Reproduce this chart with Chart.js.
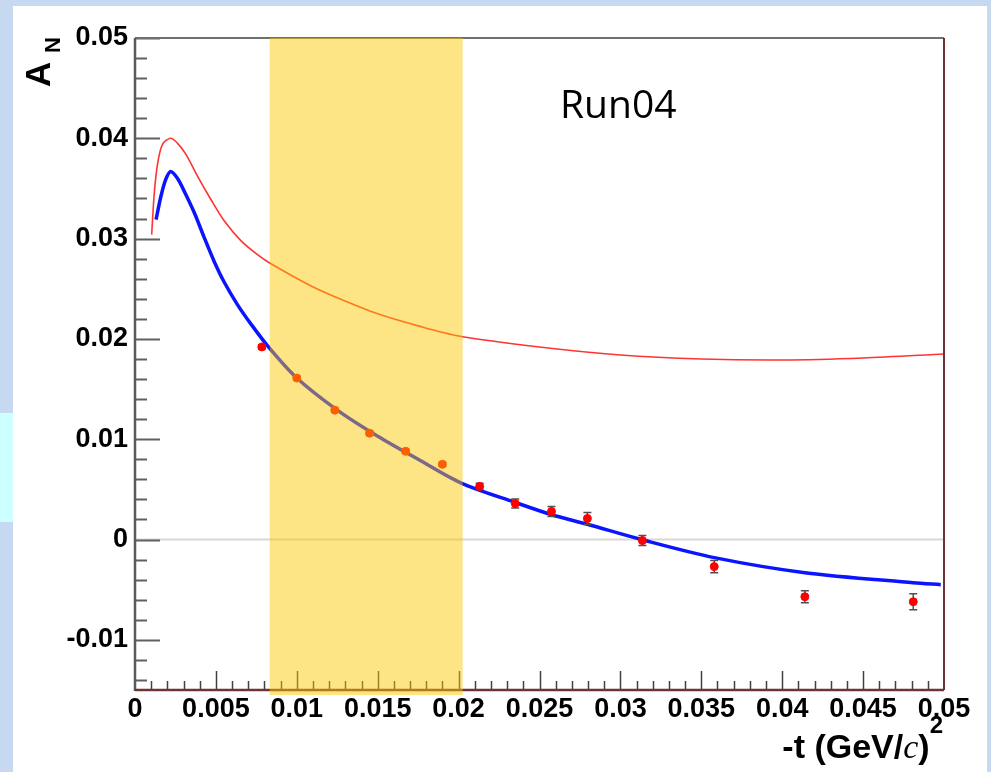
<!DOCTYPE html>
<html>
<head>
<meta charset="utf-8">
<script src="https://cdn.jsdelivr.net/npm/chart.js@4/dist/chart.umd.min.js"></script>
<style>
  body { margin: 0; background: #c6d9f1; }
  #wrap { position: relative; width: 991px; height: 772px; overflow: hidden; }
  #panel { position: absolute; left: 13px; top: 6px; width: 974px; height: 766px; background: #fff; }
  #side { position: absolute; left: 0; top: 413px; width: 13px; height: 109px; background: #ccffff; }
  #c { position: absolute; left: 0; top: 0; }
</style>
</head>
<body>
<div id="wrap">
  <div id="panel"></div>
  <div id="side"></div>
  <canvas id="c" width="991" height="772"></canvas>
</div>
<script>
// theory curve (red)
const redT = [0.00103, 0.00119, 0.0014, 0.0017, 0.0022, 0.00263, 0.00315, 0.00387, 0.00469, 0.0055, 0.00654, 0.00757, 0.0083, 0.01086, 0.0125, 0.015, 0.0175, 0.02, 0.025, 0.03, 0.035, 0.04, 0.045, 0.05];
const redA = [0.0304, 0.0345, 0.0375, 0.0394, 0.0400, 0.0395, 0.0384, 0.0362, 0.0339, 0.0318, 0.0298, 0.0284, 0.0276, 0.0253, 0.0241, 0.0225, 0.0213, 0.0203, 0.0192, 0.0184, 0.0180, 0.0179, 0.0181, 0.0185];

// fit curve (blue)
const blueT = [0.0013, 0.0016, 0.0019, 0.0022, 0.00263, 0.00305, 0.00366, 0.00428, 0.0049, 0.0055, 0.00634, 0.00716, 0.0083, 0.01, 0.0125, 0.015, 0.0175, 0.0202, 0.0235, 0.0257, 0.028, 0.0313, 0.0358, 0.0414, 0.0481, 0.0498];
const blueA = [0.0319, 0.0342, 0.0359, 0.0367, 0.0360, 0.0347, 0.0326, 0.0301, 0.0277, 0.0257, 0.0234, 0.0215, 0.0191, 0.0161, 0.0129, 0.0103, 0.0080, 0.0056, 0.0037, 0.0025, 0.0015, 0.0, -0.0018, -0.0033, -0.0043, -0.0045];

// measured points
const ptT = [0.00784, 0.0100, 0.01235, 0.0145, 0.01673, 0.0190, 0.0213, 0.0235, 0.02574, 0.02796, 0.03136, 0.0358, 0.0414, 0.0481];
const ptA = [0.0192, 0.0161, 0.0129, 0.0106, 0.0088, 0.0075, 0.0053, 0.0036, 0.0028, 0.0021, -0.0001, -0.0027, -0.0057, -0.0062];
const ptErr = [0.0002, 0.0002, 0.0002, 0.0002, 0.0002, 0.0002, 0.0003, 0.00045, 0.0005, 0.0006, 0.0005, 0.0006, 0.0006, 0.0008];

// shaded t range
const band = [0.00833, 0.02025];

const xTickValues = [0, 0.005, 0.01, 0.015, 0.02, 0.025, 0.03, 0.035, 0.04, 0.045, 0.05];
const xTickLabels = ["0", "0.005", "0.01", "0.015", "0.02", "0.025", "0.03", "0.035", "0.04", "0.045", "0.05"];
const yTickValues = [-0.01, 0, 0.01, 0.02, 0.03, 0.04, 0.05];
const yTickLabels = ["-0.01", "0", "0.01", "0.02", "0.03", "0.04", "0.05"];

const toXY = (xs, ys) => xs.map((x, i) => ({ x: x, y: ys[i] }));

const labelFont = { family: '"Liberation Sans", Arial, sans-serif', size: 27, weight: 'bold' };

const decor = {
  id: 'decor',
  beforeDatasetsDraw(chart) {
    const { ctx, chartArea: a, scales: { y } } = chart;
    const y0 = y.getPixelForValue(0);
    ctx.save();
    ctx.strokeStyle = '#dcd8d0';
    ctx.lineWidth = 2;
    ctx.beginPath();
    ctx.moveTo(a.left, y0);
    ctx.lineTo(a.right, y0);
    ctx.stroke();
    ctx.restore();
  },
  beforeDatasetDraw(chart, args) {
    if (args.index !== 0) return;
    const { ctx, scales: { x, y } } = chart;
    ctx.save();
    ctx.strokeStyle = '#505050';
    ctx.lineWidth = 1.5;
    ptT.forEach((t, i) => {
      const px = x.getPixelForValue(t);
      const lo = y.getPixelForValue(ptA[i] - ptErr[i]);
      const hi = y.getPixelForValue(ptA[i] + ptErr[i]);
      ctx.beginPath();
      ctx.moveTo(px, lo); ctx.lineTo(px, hi);
      ctx.moveTo(px - 4, lo); ctx.lineTo(px + 4, lo);
      ctx.moveTo(px - 4, hi); ctx.lineTo(px + 4, hi);
      ctx.stroke();
    });
    ctx.restore();
  },
  afterDraw(chart) {
    const { ctx, chartArea: a, scales: { x, y } } = chart;
    ctx.save();

    // inward ticks
    ctx.strokeStyle = '#606060';
    ctx.lineWidth = 2;
    for (let k = -7; k <= 25; k++) {
      const v = k * 0.002;
      const py = Math.round(y.getPixelForValue(v)) + 0.5;
      const major = yTickValues.some(t => Math.abs(t - v) < 1e-9);
      ctx.beginPath();
      ctx.moveTo(a.left, py);
      ctx.lineTo(a.left + (major ? 25 : 12), py);
      ctx.stroke();
    }
    ctx.strokeStyle = '#404040';
    ctx.lineWidth = 1.5;
    for (let k = 1; k < 50; k++) {
      const v = k * 0.001;
      const px = Math.round(x.getPixelForValue(v)) + 0.5;
      const major = k % 5 === 0;
      ctx.beginPath();
      ctx.moveTo(px, a.bottom);
      ctx.lineTo(px, a.bottom - (major ? 19 : 9));
      ctx.stroke();
    }

    // frame
    ctx.lineWidth = 2;
    ctx.strokeStyle = '#707070';
    ctx.beginPath(); ctx.moveTo(a.left, a.top); ctx.lineTo(a.right, a.top); ctx.stroke();
    ctx.strokeStyle = '#5a5a5a';
    ctx.lineWidth = 2.5;
    ctx.beginPath(); ctx.moveTo(a.left, a.top); ctx.lineTo(a.left, a.bottom + 1); ctx.stroke();
    ctx.strokeStyle = '#6e3434';
    ctx.lineWidth = 2;
    ctx.beginPath(); ctx.moveTo(a.right, a.top); ctx.lineTo(a.right, a.bottom); ctx.stroke();
    ctx.lineWidth = 2.5;
    ctx.beginPath(); ctx.moveTo(a.left, a.bottom); ctx.lineTo(a.right, a.bottom); ctx.stroke();

    // shaded band (semi-transparent, on top)
    const bx0 = x.getPixelForValue(band[0]);
    const bx1 = x.getPixelForValue(band[1]);
    ctx.fillStyle = 'rgba(250, 198, 0, 0.48)';
    ctx.fillRect(bx0, a.top, bx1 - bx0, a.bottom - a.top + 5);

    // y title A_N
    ctx.fillStyle = '#000';
    ctx.save();
    ctx.translate(50, 87);
    ctx.rotate(-Math.PI / 2);
    ctx.textBaseline = 'alphabetic';
    ctx.textAlign = 'left';
    ctx.font = 'bold 35px "Liberation Sans", Arial, sans-serif';
    ctx.fillText('A', 0, 0);
    ctx.font = 'bold 22px "Liberation Sans", Arial, sans-serif';
    ctx.fillText('N', 34, 10);
    ctx.restore();

    // x title -t (GeV/c)^2
    const parts = [
      { t: '-t (GeV/', f: 'bold 34px "Liberation Sans", Arial, sans-serif', dy: 0 },
      { t: 'c', f: 'italic 34px "Liberation Serif", "Times New Roman", serif', dy: 0 },
      { t: ')', f: 'bold 34px "Liberation Sans", Arial, sans-serif', dy: 0 },
      { t: '2', f: 'bold 24px "Liberation Sans", Arial, sans-serif', dy: -25 }
    ];
    let total = 0;
    parts.forEach(p => { ctx.font = p.f; p.w = ctx.measureText(p.t).width; total += p.w; });
    let cx = 943 - total;
    ctx.textAlign = 'left';
    ctx.textBaseline = 'alphabetic';
    parts.forEach(p => { ctx.font = p.f; ctx.fillText(p.t, cx, 758 + p.dy); cx += p.w; });

    // run label
    ctx.font = '39px "Open Sans", sans-serif';
    ctx.fillText('Run04', 560, 118);

    ctx.restore();
  }
};

new Chart(document.getElementById('c'), {
  type: 'scatter',
  data: {
    datasets: [
      {
        label: 'data',
        data: toXY(ptT, ptA),
        backgroundColor: '#ff0000',
        borderColor: '#ff0000',
        pointRadius: 4,
        order: 0
      },
      {
        label: 'fit',
        data: toXY(blueT, blueA),
        showLine: true,
        borderColor: '#0a14ff',
        borderWidth: 3.5,
        pointRadius: 0,
        tension: 0.3,
        order: 1
      },
      {
        label: 'theory',
        data: toXY(redT, redA),
        showLine: true,
        borderColor: '#ff3333',
        borderWidth: 1.6,
        pointRadius: 0,
        tension: 0.3,
        order: 2
      }
    ]
  },
  options: {
    responsive: false,
    animation: false,
    layout: { padding: { left: 0, top: 38, right: 47, bottom: 0 } },
    plugins: { legend: { display: false }, tooltip: { enabled: false } },
    scales: {
      x: {
        type: 'linear',
        min: 0,
        max: 0.05,
        afterBuildTicks: (s) => { s.ticks = xTickValues.map(v => ({ value: v })); },
        afterFit: (s) => { s.height = 82; },
        grid: { display: false, drawTicks: false },
        border: { display: false },
        ticks: {
          autoSkip: false,
          maxRotation: 0,
          padding: 3,
          color: '#000',
          font: labelFont,
          callback: (v, i) => xTickLabels[i]
        }
      },
      y: {
        type: 'linear',
        min: -0.015,
        max: 0.05,
        afterBuildTicks: (s) => { s.ticks = yTickValues.map(v => ({ value: v })); },
        afterFit: (s) => { s.width = 135; },
        grid: { display: false, drawTicks: false },
        border: { display: false },
        ticks: {
          autoSkip: false,
          padding: 7,
          color: '#000',
          font: labelFont,
          callback: (v, i) => yTickLabels[i]
        }
      }
    }
  },
  plugins: [decor]
});
</script>
</body>
</html>
